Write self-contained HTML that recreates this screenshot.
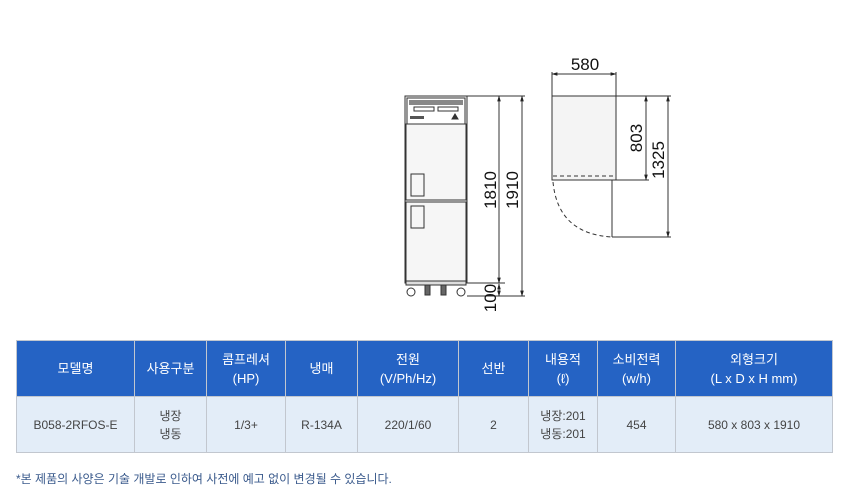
<!DOCTYPE html>
<html><head><meta charset="utf-8"><style>
body{margin:0;width:850px;height:500px;background:#fff;font-family:"Liberation Sans","Noto Sans CJK KR",sans-serif;position:relative;overflow:hidden}
table{position:absolute;left:16px;top:340px;border-collapse:collapse;width:816px;table-layout:fixed}
td,th{border:1px solid #c2c7cf;text-align:center;font-size:12px;padding:0}
th{background:#2563c4;color:#fff;font-weight:normal;height:55px;line-height:19px;font-size:13px}
td{background:#e3edf8;color:#444;height:55px;line-height:18px}
.note{position:absolute;left:16px;top:470px;font-size:12px;color:#3a5a8c}
</style></head><body>
<svg width="850" height="330" style="position:absolute;left:0;top:0" font-family="Liberation Sans, sans-serif">
<defs><marker id="a" viewBox="0 0 10 10" refX="9" refY="5" markerWidth="6" markerHeight="6" orient="auto-start-reverse"><path d="M0,2L10,5L0,8z" fill="#222"/></marker></defs>
<g stroke="#333" fill="none" stroke-width="1">
<rect x="405" y="96" width="62" height="187" fill="#f4f4f4"/>
<rect x="407" y="98" width="58" height="26" fill="#fff"/>
<rect x="409" y="100" width="54" height="5" fill="#888" stroke="none"/>
<rect x="414" y="107" width="20" height="4" fill="#fff"/><rect x="438" y="107" width="20" height="4"/>
<rect x="410" y="116" width="14" height="3" fill="#555" stroke="none"/>
<path d="M452 119l3-5 3 5z" fill="#333"/>
<rect x="406" y="124" width="60" height="76" fill="#f6f6f6"/>
<rect x="406" y="202" width="60" height="79" fill="#f6f6f6"/>
<rect x="411" y="174" width="13" height="22"/><rect x="411" y="206" width="13" height="22"/>
<rect x="406" y="281" width="60" height="4" fill="#ddd"/>
<circle cx="411" cy="292" r="4"/><circle cx="461" cy="292" r="4"/>
<rect x="425" y="285" width="5" height="10" fill="#666"/><rect x="441" y="285" width="5" height="10" fill="#666"/>
<line x1="467" y1="96" x2="525" y2="96"/><line x1="467" y1="283" x2="505" y2="283"/><line x1="467" y1="296" x2="525" y2="296"/>
<line x1="499" y1="96" x2="499" y2="283" marker-start="url(#a)" marker-end="url(#a)"/>
<line x1="499" y1="284" x2="499" y2="296" marker-start="url(#a)" marker-end="url(#a)"/>
<line x1="522" y1="96" x2="522" y2="296" marker-start="url(#a)" marker-end="url(#a)"/>
<rect x="552" y="96" width="64" height="84" fill="#f4f4f4"/>
<line x1="553" y1="176" x2="615" y2="176" stroke-dasharray="4,3"/>
<line x1="612" y1="180" x2="612" y2="237"/>
<path d="M553 182 Q558 234 612 237" stroke-dasharray="4,3"/>
<line x1="552" y1="72" x2="552" y2="96"/><line x1="616" y1="72" x2="616" y2="96"/>
<line x1="552" y1="74" x2="616" y2="74" marker-start="url(#a)" marker-end="url(#a)"/>
<line x1="616" y1="96" x2="671" y2="96"/><line x1="616" y1="180" x2="649" y2="180"/><line x1="612" y1="237" x2="671" y2="237"/>
<line x1="646" y1="96" x2="646" y2="180" marker-start="url(#a)" marker-end="url(#a)"/>
<line x1="668" y1="96" x2="668" y2="237" marker-start="url(#a)" marker-end="url(#a)"/>
</g>
<g fill="#111" font-size="17">
<text x="585" y="70" text-anchor="middle">580</text>
<text transform="translate(496,190) rotate(-90)" text-anchor="middle">1810</text>
<text transform="translate(518,190) rotate(-90)" text-anchor="middle">1910</text>
<text transform="translate(496,298) rotate(-90)" text-anchor="middle">100</text>
<text transform="translate(642,138) rotate(-90)" text-anchor="middle">803</text>
<text transform="translate(664,160) rotate(-90)" text-anchor="middle">1325</text>
</g>
</svg>
<table>
<colgroup><col style="width:118px"><col style="width:72px"><col style="width:79px"><col style="width:72px"><col style="width:101px"><col style="width:70px"><col style="width:69px"><col style="width:78px"><col style="width:157px"></colgroup>
<tr><th>모델명</th><th>사용구분</th><th>콤프레셔<br>(HP)</th><th>냉매</th><th>전원<br>(V/Ph/Hz)</th><th>선반</th><th>내용적<br>(ℓ)</th><th>소비전력<br>(w/h)</th><th>외형크기<br>(L x D x H mm)</th></tr>
<tr><td>B058-2RFOS-E</td><td>냉장<br>냉동</td><td>1/3+</td><td>R-134A</td><td>220/1/60</td><td>2</td><td>냉장:201<br>냉동:201</td><td>454</td><td>580 x 803 x 1910</td></tr>
</table>
<div class="note">*본 제품의 사양은 기술 개발로 인하여 사전에 예고 없이 변경될 수 있습니다.</div>
</body></html>
